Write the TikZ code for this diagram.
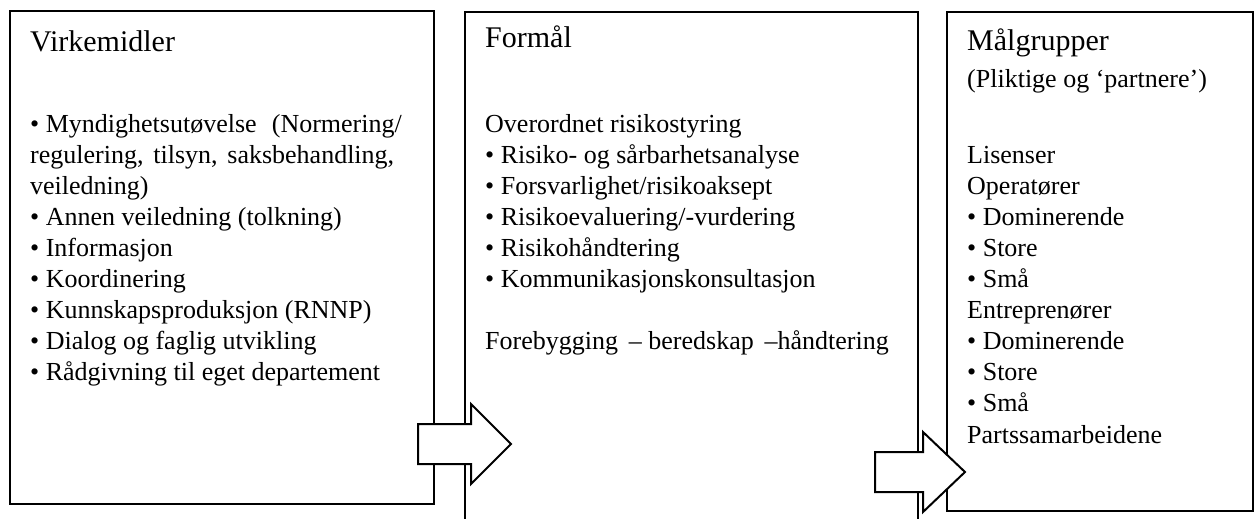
\documentclass[tikz,border=0pt]{standalone}
\usepackage{fontspec}
\setmainfont{Liberation Serif}

\tikzset{
  box/.style={draw=black, line width=2pt, fill=white, inner sep=0pt},
  heading/.style={anchor=base west, inner sep=0pt, font=\fontsize{30}{36}\selectfont},
  item/.style={anchor=base west, inner sep=0pt, font=\fontsize{26}{31}\selectfont},
  blockarrow/.style={draw=black, line width=2pt, fill=white, line join=miter},
}

\begin{document}
\begin{tikzpicture}[x=1pt, y=-1pt]
\useasboundingbox (0,0) rectangle (1255,519);

% the three boxes
\node[box, minimum width=424pt, minimum height=493pt] (virk) at (222,257.5) {};
\node[box, minimum width=453pt, minimum height=512pt] (formaal) at (691.5,268) {};
\node[box, minimum width=306pt, minimum height=499pt] (maal) at (1100,261.5) {};

% Virkemidler
\node[heading] (virkhead) at (30,52) {Virkemidler};
\foreach \t [count=\i from 0] in {%
  {\textbullet\hspace{6.5pt}\makebox[356pt][s]{Myndighetsutøvelse (Normering/}},
  {\makebox[364pt][s]{regulering, tilsyn, saksbehandling,}},
  {veiledning)},
  {\textbullet\ Annen veiledning (tolkning)},
  {\textbullet\ Informasjon},
  {\textbullet\ Koordinering},
  {\textbullet\ Kunnskapsproduksjon (RNNP)},
  {\textbullet\ Dialog og faglig utvikling},
  {\textbullet\ Rådgivning til eget departement}}
  \node[item] (virk\i) at (30,{132+31.1*\i}) {\t};

% Formaal
\node[heading] (formhead) at (485,48) {Formål};
\foreach \t [count=\i from 0] in {%
  {Overordnet risikostyring},
  {\textbullet\ Risiko- og sårbarhetsanalyse},
  {\textbullet\ Forsvarlighet/risikoaksept},
  {\textbullet\ Risikoevaluering/-vurdering},
  {\textbullet\ Risikohåndtering},
  {\textbullet\ Kommunikasjonskonsultasjon}}
  \node[item] (form\i) at (485,{132+31.1*\i}) {\t};
\node[item] (form7) at (485,{132+31.1*7}) {Forebygging \,– beredskap \,–håndtering};

% Maalgrupper
\node[heading] (maalhead) at (967,51) {Målgrupper};
\node[item] (maalsub) at (967,88) {(Pliktige og ‘partnere’)};
\foreach \t [count=\i from 1] in {%
  {Lisenser},
  {Operatører},
  {\textbullet\ Dominerende},
  {\textbullet\ Store},
  {\textbullet\ Små},
  {Entreprenører},
  {\textbullet\ Dominerende},
  {\textbullet\ Store},
  {\textbullet\ Små},
  {Partssamarbeidene}}
  \node[item] (maal\i) at (967,{132+31.1*\i}) {\t};

% block arrows between the boxes
\draw[blockarrow] (418,424) -- (471,424) -- (471,404) -- (511,444) -- (471,484) -- (471,464) -- (418,464) -- cycle;
\draw[blockarrow] (875,452) -- (923,452) -- (923,432) -- (965,472) -- (923,512) -- (923,492) -- (875,492) -- cycle;

\end{tikzpicture}
\end{document}
